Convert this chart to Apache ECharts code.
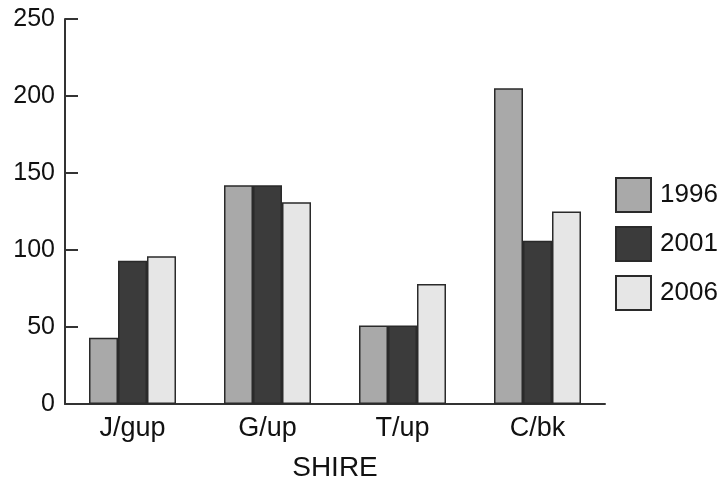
<!DOCTYPE html>
<html>
<head>
<meta charset="utf-8">
<script src="https://cdn.jsdelivr.net/npm/echarts@6/dist/echarts.min.js"></script>
<style>html,body{margin:0;padding:0;background:#fff;}#c{width:723px;height:481px;}</style>
</head>
<body>
<div id="c"></div>
<script>
var categories = ['J/gup', 'G/up', 'T/up', 'C/bk'];
var seriesNames = ['1996', '2001', '2006'];
var values1996 = [43, 142, 51, 205];
var values2001 = [93, 142, 51, 106];
var values2006 = [96, 131, 78, 125];
var yTicks = [0, 50, 100, 150, 200, 250];

var colors = ['#a9a9a9', '#3b3b3b', '#e6e6e6'];
var font = 'Liberation Sans, Arial, sans-serif';
var textColor = '#111';
var chart = echarts.init(document.getElementById('c'));
function mk(name, data, i) {
  return {
    name: name, type: 'bar', data: data, barWidth: 29, barGap: '0%',
    itemStyle: { color: colors[i], borderColor: '#2a2a2a', borderWidth: 1.5 }
  };
}
chart.setOption({
  animation: false,
  backgroundColor: '#fff',
  grid: { left: 65, right: 118, top: 19, bottom: 77, containLabel: false, outerBoundsMode: 'none' },
  legend: {
    orient: 'vertical', left: 615, top: 177, padding: 0, itemWidth: 35, itemHeight: 34, itemGap: 13,
    icon: 'rect',
    textStyle: { fontSize: 26, fontFamily: font, color: textColor, padding: [0, 0, 0, 4] },
    data: seriesNames
  },
  xAxis: {
    type: 'category', data: categories,
    axisLine: { lineStyle: { color: '#333', width: 2 } },
    axisTick: { show: false },
    axisLabel: { fontSize: 27, fontFamily: font, color: textColor, margin: 11 },
    name: 'SHIRE', nameLocation: 'middle', nameGap: 50,
    nameTextStyle: { fontSize: 28, fontFamily: font, color: textColor }
  },
  yAxis: {
    type: 'value', min: yTicks[0], max: yTicks[yTicks.length - 1], interval: 50,
    splitLine: { show: false },
    axisLine: { show: true, lineStyle: { color: '#333', width: 2 } },
    axisTick: { show: true, inside: true, length: 13, lineStyle: { color: '#333', width: 2 } },
    axisLabel: { fontSize: 25, fontFamily: font, color: textColor, margin: 10 }
  },
  series: [mk(seriesNames[0], values1996, 0), mk(seriesNames[1], values2001, 1), mk(seriesNames[2], values2006, 2)]
});
</script>
</body>
</html>
